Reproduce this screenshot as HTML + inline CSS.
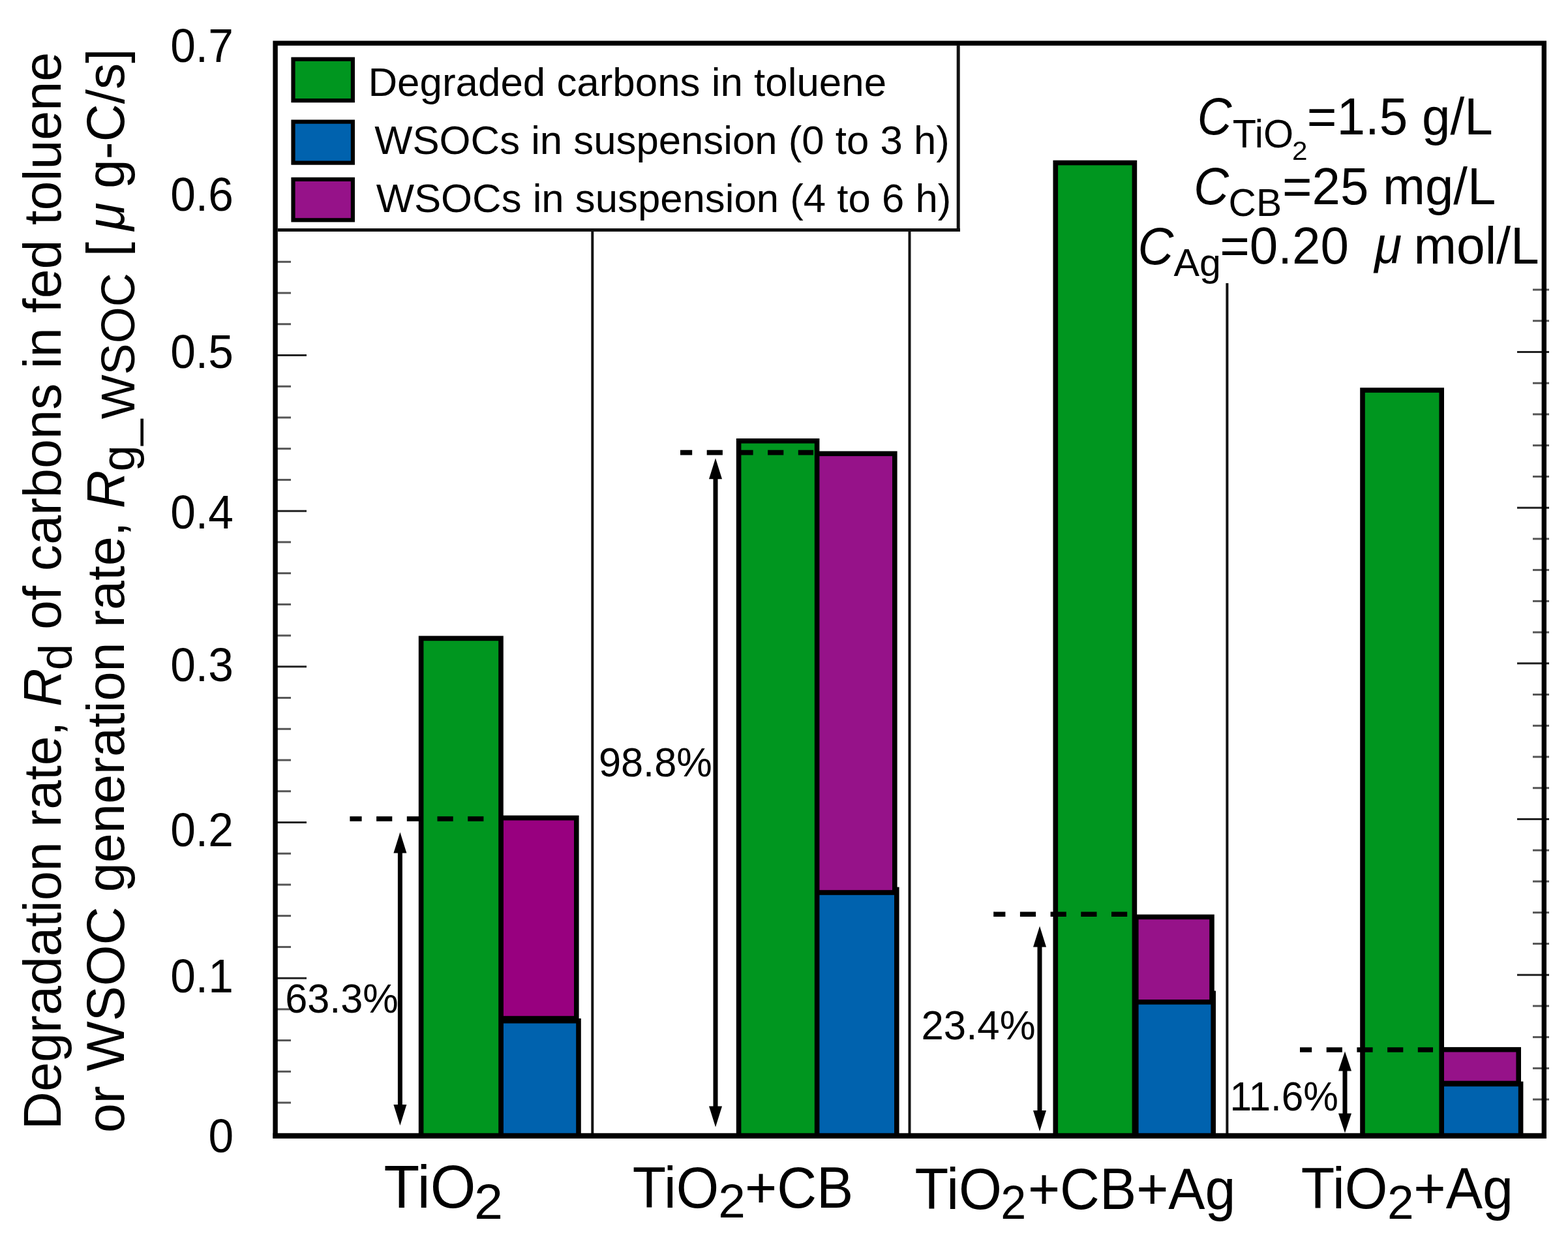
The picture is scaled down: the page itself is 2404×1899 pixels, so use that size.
<!DOCTYPE html>
<html><head><meta charset="utf-8"><title>Degradation rate chart</title>
<style>
html,body{margin:0;padding:0;background:#fff;overflow:hidden;}
svg{display:block;}
text{fill:#000;}
</style></head>
<body>
<svg width="2404" height="1899" viewBox="0 0 2404 1899">
<rect width="2404" height="1899" fill="#fff"/>
<line x1="908.3" y1="355" x2="908.3" y2="1741" stroke="#111" stroke-width="4"/>
<line x1="1394.5" y1="355" x2="1394.5" y2="1741" stroke="#111" stroke-width="4"/>
<line x1="1881.4" y1="434" x2="1881.4" y2="1741" stroke="#111" stroke-width="4"/>
<line x1="424" y1="1690.07" x2="446" y2="1690.07" stroke="#555" stroke-width="3"/>
<line x1="424" y1="1642.34" x2="446" y2="1642.34" stroke="#555" stroke-width="3"/>
<line x1="424" y1="1594.60" x2="446" y2="1594.60" stroke="#555" stroke-width="3"/>
<line x1="424" y1="1546.87" x2="446" y2="1546.87" stroke="#555" stroke-width="3"/>
<line x1="424" y1="1499.14" x2="470" y2="1499.14" stroke="#222" stroke-width="3"/>
<line x1="424" y1="1451.41" x2="446" y2="1451.41" stroke="#555" stroke-width="3"/>
<line x1="424" y1="1403.68" x2="446" y2="1403.68" stroke="#555" stroke-width="3"/>
<line x1="424" y1="1355.94" x2="446" y2="1355.94" stroke="#555" stroke-width="3"/>
<line x1="424" y1="1308.21" x2="446" y2="1308.21" stroke="#555" stroke-width="3"/>
<line x1="424" y1="1260.48" x2="470" y2="1260.48" stroke="#222" stroke-width="3"/>
<line x1="424" y1="1212.75" x2="446" y2="1212.75" stroke="#555" stroke-width="3"/>
<line x1="424" y1="1165.02" x2="446" y2="1165.02" stroke="#555" stroke-width="3"/>
<line x1="424" y1="1117.28" x2="446" y2="1117.28" stroke="#555" stroke-width="3"/>
<line x1="424" y1="1069.55" x2="446" y2="1069.55" stroke="#555" stroke-width="3"/>
<line x1="424" y1="1021.82" x2="470" y2="1021.82" stroke="#222" stroke-width="3"/>
<line x1="424" y1="974.09" x2="446" y2="974.09" stroke="#555" stroke-width="3"/>
<line x1="424" y1="926.36" x2="446" y2="926.36" stroke="#555" stroke-width="3"/>
<line x1="424" y1="878.62" x2="446" y2="878.62" stroke="#555" stroke-width="3"/>
<line x1="424" y1="830.89" x2="446" y2="830.89" stroke="#555" stroke-width="3"/>
<line x1="424" y1="783.16" x2="470" y2="783.16" stroke="#222" stroke-width="3"/>
<line x1="424" y1="735.43" x2="446" y2="735.43" stroke="#555" stroke-width="3"/>
<line x1="424" y1="687.70" x2="446" y2="687.70" stroke="#555" stroke-width="3"/>
<line x1="424" y1="639.96" x2="446" y2="639.96" stroke="#555" stroke-width="3"/>
<line x1="424" y1="592.23" x2="446" y2="592.23" stroke="#555" stroke-width="3"/>
<line x1="424" y1="544.50" x2="470" y2="544.50" stroke="#222" stroke-width="3"/>
<line x1="424" y1="496.77" x2="446" y2="496.77" stroke="#555" stroke-width="3"/>
<line x1="424" y1="449.04" x2="446" y2="449.04" stroke="#555" stroke-width="3"/>
<line x1="424" y1="401.30" x2="446" y2="401.30" stroke="#555" stroke-width="3"/>
<line x1="2350" y1="1685.07" x2="2375" y2="1685.07" stroke="#555" stroke-width="3"/>
<line x1="2350" y1="1637.34" x2="2375" y2="1637.34" stroke="#555" stroke-width="3"/>
<line x1="2350" y1="1589.60" x2="2375" y2="1589.60" stroke="#555" stroke-width="3"/>
<line x1="2350" y1="1541.87" x2="2375" y2="1541.87" stroke="#555" stroke-width="3"/>
<line x1="2326" y1="1494.14" x2="2375" y2="1494.14" stroke="#222" stroke-width="3"/>
<line x1="2350" y1="1446.41" x2="2375" y2="1446.41" stroke="#555" stroke-width="3"/>
<line x1="2350" y1="1398.68" x2="2375" y2="1398.68" stroke="#555" stroke-width="3"/>
<line x1="2350" y1="1350.94" x2="2375" y2="1350.94" stroke="#555" stroke-width="3"/>
<line x1="2350" y1="1303.21" x2="2375" y2="1303.21" stroke="#555" stroke-width="3"/>
<line x1="2326" y1="1255.48" x2="2375" y2="1255.48" stroke="#222" stroke-width="3"/>
<line x1="2350" y1="1207.75" x2="2375" y2="1207.75" stroke="#555" stroke-width="3"/>
<line x1="2350" y1="1160.02" x2="2375" y2="1160.02" stroke="#555" stroke-width="3"/>
<line x1="2350" y1="1112.28" x2="2375" y2="1112.28" stroke="#555" stroke-width="3"/>
<line x1="2350" y1="1064.55" x2="2375" y2="1064.55" stroke="#555" stroke-width="3"/>
<line x1="2326" y1="1016.82" x2="2375" y2="1016.82" stroke="#222" stroke-width="3"/>
<line x1="2350" y1="969.09" x2="2375" y2="969.09" stroke="#555" stroke-width="3"/>
<line x1="2350" y1="921.36" x2="2375" y2="921.36" stroke="#555" stroke-width="3"/>
<line x1="2350" y1="873.62" x2="2375" y2="873.62" stroke="#555" stroke-width="3"/>
<line x1="2350" y1="825.89" x2="2375" y2="825.89" stroke="#555" stroke-width="3"/>
<line x1="2326" y1="778.16" x2="2375" y2="778.16" stroke="#222" stroke-width="3"/>
<line x1="2350" y1="730.43" x2="2375" y2="730.43" stroke="#555" stroke-width="3"/>
<line x1="2350" y1="682.70" x2="2375" y2="682.70" stroke="#555" stroke-width="3"/>
<line x1="2350" y1="634.96" x2="2375" y2="634.96" stroke="#555" stroke-width="3"/>
<line x1="2350" y1="587.23" x2="2375" y2="587.23" stroke="#555" stroke-width="3"/>
<line x1="2326" y1="539.50" x2="2375" y2="539.50" stroke="#222" stroke-width="3"/>
<line x1="2350" y1="491.77" x2="2375" y2="491.77" stroke="#555" stroke-width="3"/>
<line x1="2350" y1="444.04" x2="2375" y2="444.04" stroke="#555" stroke-width="3"/>
<rect x="768.00" y="1564.70" width="119.00" height="176.50" fill="#0062ae" stroke="#000" stroke-width="7.6"/>
<rect x="768.00" y="1253.60" width="115.80" height="307.40" fill="#98007f" stroke="#000" stroke-width="7.6"/>
<rect x="645.60" y="978.40" width="122.40" height="762.80" fill="#00961f" stroke="#000" stroke-width="7.6"/>
<rect x="1251.40" y="1363.40" width="123.40" height="377.80" fill="#0062ae" stroke="#000" stroke-width="7.6"/>
<rect x="1251.40" y="695.30" width="120.40" height="672.70" fill="#961289" stroke="#000" stroke-width="7.6"/>
<rect x="1132.60" y="675.80" width="120.00" height="1065.40" fill="#00961f" stroke="#000" stroke-width="7.6"/>
<rect x="1741.80" y="1522.40" width="118.40" height="218.80" fill="#0062ae" stroke="#000" stroke-width="7.6"/>
<rect x="1741.80" y="1405.40" width="116.20" height="130.40" fill="#961289" stroke="#000" stroke-width="7.6"/>
<rect x="1618.30" y="249.50" width="121.10" height="1491.70" fill="#00961f" stroke="#000" stroke-width="7.6"/>
<rect x="2210.00" y="1661.40" width="121.60" height="79.80" fill="#0062ae" stroke="#000" stroke-width="7.6"/>
<rect x="2210.00" y="1608.70" width="118.20" height="51.70" fill="#961289" stroke="#000" stroke-width="7.6"/>
<rect x="2089.00" y="598.00" width="121.20" height="1143.20" fill="#00961f" stroke="#000" stroke-width="7.6"/>
<line x1="536.4" y1="1255.0" x2="742" y2="1255.0" stroke="#000" stroke-width="7.6" stroke-dasharray="24.2 22.5" stroke-dashoffset="6"/>
<line x1="1043.0" y1="693.6" x2="1247" y2="693.6" stroke="#000" stroke-width="7.6" stroke-dasharray="24.2 22.5" stroke-dashoffset="6"/>
<line x1="1523.2" y1="1401.2" x2="1729" y2="1401.2" stroke="#000" stroke-width="7.6" stroke-dasharray="24.2 22.5" stroke-dashoffset="6"/>
<line x1="1993.0" y1="1609.0" x2="2197" y2="1609.0" stroke="#000" stroke-width="7.6" stroke-dasharray="24.2 22.5" stroke-dashoffset="6"/>
<line x1="613.4" y1="1305.5" x2="613.4" y2="1695.0" stroke="#000" stroke-width="7"/>
<path d="M613.4 1275.5 L623.4 1307.5 L603.4 1307.5 Z" fill="#000"/>
<path d="M613.4 1725.0 L623.4 1693.0 L603.4 1693.0 Z" fill="#000"/>
<line x1="1097.0" y1="732.2" x2="1097.0" y2="1697.5" stroke="#000" stroke-width="7"/>
<path d="M1097.0 702.2 L1107.0 734.2 L1087.0 734.2 Z" fill="#000"/>
<path d="M1097.0 1727.5 L1107.0 1695.5 L1087.0 1695.5 Z" fill="#000"/>
<line x1="1594.0" y1="1449.6" x2="1594.0" y2="1704.0" stroke="#000" stroke-width="7"/>
<path d="M1594.0 1419.6 L1604.0 1451.6 L1584.0 1451.6 Z" fill="#000"/>
<path d="M1594.0 1734.0 L1604.0 1702.0 L1584.0 1702.0 Z" fill="#000"/>
<line x1="2062.0" y1="1639.6" x2="2062.0" y2="1708.4" stroke="#000" stroke-width="7"/>
<path d="M2062.0 1611.6 L2072.0 1641.6 L2052.0 1641.6 Z" fill="#000"/>
<path d="M2062.0 1736.4 L2072.0 1706.4 L2052.0 1706.4 Z" fill="#000"/>
<rect x="422.1" y="66.2" width="1945.2" height="1674.7" fill="none" stroke="#000" stroke-width="7.4"/>
<line x1="418.4" y1="1740.9" x2="2371.0" y2="1740.9" stroke="#000" stroke-width="8.2"/>
<rect x="426" y="70" width="1043" height="282.5" fill="#fff"/>
<line x1="426" y1="352.6" x2="1472" y2="352.6" stroke="#111" stroke-width="5"/>
<line x1="1469.2" y1="69" x2="1469.2" y2="355" stroke="#111" stroke-width="5"/>
<rect x="449.50" y="90.70" width="91.40" height="63.40" fill="#00961f" stroke="#000" stroke-width="6.2"/>
<rect x="449.50" y="186.60" width="91.40" height="63.00" fill="#0062ae" stroke="#000" stroke-width="6.2"/>
<rect x="449.50" y="274.90" width="91.40" height="62.40" fill="#961289" stroke="#000" stroke-width="6.2"/>
<text transform="translate(564.42,146.60) scale(1.0063,1.0000)" font-size="61.5" font-family="'Liberation Sans', Arial, Helvetica, sans-serif">Degraded carbons in toluene</text>
<text transform="translate(574.13,235.50) scale(1.0037,1.0000)" font-size="61.5" font-family="'Liberation Sans', Arial, Helvetica, sans-serif">WSOCs in suspension (0 to 3 h)</text>
<text transform="translate(576.63,324.70) scale(1.0037,1.0000)" font-size="61.5" font-family="'Liberation Sans', Arial, Helvetica, sans-serif">WSOCs in suspension (4 to 6 h)</text>
<rect x="1748" y="71" width="614" height="360" fill="#fff"/>
<text transform="translate(1835.67,206.00) scale(0.9360,1.0200)" font-size="78" font-family="'Liberation Sans', Arial, Helvetica, sans-serif" font-style="italic">C</text>
<text transform="translate(1889.67,225.50) scale(0.9817,1.0200)" font-size="60.5" font-family="'Liberation Sans', Arial, Helvetica, sans-serif">TiO</text>
<text transform="translate(1981.07,245.00) scale(1.0672,1.0200)" font-size="39.7" font-family="'Liberation Sans', Arial, Helvetica, sans-serif">2</text>
<text transform="translate(2003.78,206.30) scale(1.0033,1.0200)" font-size="78" font-family="'Liberation Sans', Arial, Helvetica, sans-serif">=1.5 g/L</text>
<text transform="translate(1830.30,313.00) scale(0.9531,1.0200)" font-size="78" font-family="'Liberation Sans', Arial, Helvetica, sans-serif" font-style="italic">C</text>
<text transform="translate(1883.62,331.00) scale(1.0124,1.0200)" font-size="58" font-family="'Liberation Sans', Arial, Helvetica, sans-serif">CB</text>
<text transform="translate(1966.09,312.50) scale(0.9994,1.0200)" font-size="78" font-family="'Liberation Sans', Arial, Helvetica, sans-serif">=25 mg/L</text>
<text transform="translate(1744.52,404.50) scale(0.9722,1.0200)" font-size="78" font-family="'Liberation Sans', Arial, Helvetica, sans-serif" font-style="italic">C</text>
<text transform="translate(1799.58,422.70) scale(1.0208,1.0200)" font-size="58" font-family="'Liberation Sans', Arial, Helvetica, sans-serif">Ag</text>
<text transform="translate(1870.18,404.30) scale(1.0020,1.0200)" font-size="78" font-family="'Liberation Sans', Arial, Helvetica, sans-serif">=0.20</text>
<text transform="translate(2107.30,403.30) scale(0.9664,1.0200)" font-size="79" font-family="'Liberation Sans', Arial, Helvetica, sans-serif" font-style="italic">μ</text>
<text transform="translate(2167.48,404.30) scale(1.0078,1.0200)" font-size="78" font-family="'Liberation Sans', Arial, Helvetica, sans-serif">mol/L</text>
<text transform="translate(261.19,94.70) scale(1.0000,1.0300)" font-size="69.5" font-family="'Liberation Sans', Arial, Helvetica, sans-serif">0.7</text>
<text transform="translate(261.19,322.50) scale(1.0000,1.0300)" font-size="69.5" font-family="'Liberation Sans', Arial, Helvetica, sans-serif">0.6</text>
<text transform="translate(261.19,564.40) scale(1.0000,1.0300)" font-size="69.5" font-family="'Liberation Sans', Arial, Helvetica, sans-serif">0.5</text>
<text transform="translate(261.19,809.90) scale(1.0000,1.0300)" font-size="69.5" font-family="'Liberation Sans', Arial, Helvetica, sans-serif">0.4</text>
<text transform="translate(261.19,1043.80) scale(1.0000,1.0300)" font-size="69.5" font-family="'Liberation Sans', Arial, Helvetica, sans-serif">0.3</text>
<text transform="translate(261.19,1296.70) scale(1.0000,1.0300)" font-size="69.5" font-family="'Liberation Sans', Arial, Helvetica, sans-serif">0.2</text>
<text transform="translate(261.19,1520.80) scale(1.0000,1.0300)" font-size="69.5" font-family="'Liberation Sans', Arial, Helvetica, sans-serif">0.1</text>
<text transform="translate(319.39,1766.40) scale(1.0000,1.0300)" font-size="69.5" font-family="'Liberation Sans', Arial, Helvetica, sans-serif">0</text>
<text transform="translate(437.19,1552.00) scale(1.0036,1.0300)" font-size="61" font-family="'Liberation Sans', Arial, Helvetica, sans-serif">63.3%</text>
<text transform="translate(917.93,1189.60) scale(1.0052,1.0300)" font-size="61" font-family="'Liberation Sans', Arial, Helvetica, sans-serif">98.8%</text>
<text transform="translate(1412.49,1592.90) scale(1.0124,1.0300)" font-size="61" font-family="'Liberation Sans', Arial, Helvetica, sans-serif">23.4%</text>
<text transform="translate(1885.40,1701.80) scale(0.9894,1.0300)" font-size="61" font-family="'Liberation Sans', Arial, Helvetica, sans-serif">11.6%</text>
<text transform="translate(588.39,1851.30) scale(1.0022,1.0300)" font-size="89.4" font-family="'Liberation Sans', Arial, Helvetica, sans-serif">TiO</text>
<text transform="translate(727.12,1868.10) scale(1.0635,1.0300)" font-size="74.5" font-family="'Liberation Sans', Arial, Helvetica, sans-serif">2</text>
<text transform="translate(969.81,1850.80) scale(0.9784,1.0300)" font-size="86" font-family="'Liberation Sans', Arial, Helvetica, sans-serif">TiO</text>
<text transform="translate(1101.14,1865.70) scale(1.0538,1.0300)" font-size="71" font-family="'Liberation Sans', Arial, Helvetica, sans-serif">2</text>
<text transform="translate(1141.99,1850.80) scale(0.9797,1.0300)" font-size="86" font-family="'Liberation Sans', Arial, Helvetica, sans-serif">+CB</text>
<text transform="translate(1402.50,1853.00) scale(0.9861,1.0300)" font-size="86" font-family="'Liberation Sans', Arial, Helvetica, sans-serif">TiO</text>
<text transform="translate(1534.37,1868.10) scale(0.9889,1.0300)" font-size="71" font-family="'Liberation Sans', Arial, Helvetica, sans-serif">2</text>
<text transform="translate(1575.89,1853.00) scale(0.9798,1.0300)" font-size="86" font-family="'Liberation Sans', Arial, Helvetica, sans-serif">+CB+Ag</text>
<text transform="translate(1994.70,1852.40) scale(0.9815,1.0300)" font-size="86" font-family="'Liberation Sans', Arial, Helvetica, sans-serif">TiO</text>
<text transform="translate(2127.03,1868.20) scale(1.0291,1.0300)" font-size="71" font-family="'Liberation Sans', Arial, Helvetica, sans-serif">2</text>
<text transform="translate(2167.37,1852.40) scale(0.9830,1.0300)" font-size="86" font-family="'Liberation Sans', Arial, Helvetica, sans-serif">+Ag</text>
<text transform="translate(93.20,0) rotate(-90) translate(-1731.54,0)" font-size="81" font-family="'Liberation Sans', Arial, Helvetica, sans-serif">Degradation rate,</text>
<text transform="translate(93.20,0) rotate(-90) translate(-1082.99,0)" font-size="81" font-family="'Liberation Sans', Arial, Helvetica, sans-serif" font-style="italic">R</text>
<text transform="translate(109.60,0) rotate(-90) translate(-1027.34,0)" font-size="72.5" font-family="'Liberation Sans', Arial, Helvetica, sans-serif">d</text>
<text transform="translate(93.20,0) rotate(-90) translate(-965.10,0) scale(0.9982,1.0000)" font-size="81" font-family="'Liberation Sans', Arial, Helvetica, sans-serif">of carbons in fed toluene</text>
<text transform="translate(190.00,0) rotate(-90) translate(-1736.20,0)" font-size="81" font-family="'Liberation Sans', Arial, Helvetica, sans-serif">or WSOC generation rate,</text>
<text transform="translate(190.00,0) rotate(-90) translate(-779.29,0)" font-size="81" font-family="'Liberation Sans', Arial, Helvetica, sans-serif" font-style="italic">R</text>
<text transform="translate(205.60,0) rotate(-90) translate(-722.42,0) scale(0.9931,1.0000)" font-size="72.5" font-family="'Liberation Sans', Arial, Helvetica, sans-serif">g_WSOC</text>
<text transform="translate(190.00,0) rotate(-90) translate(-393.37,0)" font-size="81" font-family="'Liberation Sans', Arial, Helvetica, sans-serif">[</text>
<text transform="translate(190.00,0) rotate(-90) translate(-353.36,0) scale(0.9646,1.0000)" font-size="81" font-family="'Liberation Sans', Arial, Helvetica, sans-serif" font-style="italic">μ</text>
<text transform="translate(190.00,0) rotate(-90) translate(-288.88,0) scale(0.9934,1.0000)" font-size="81" font-family="'Liberation Sans', Arial, Helvetica, sans-serif">g-C/s]</text>
</svg>
</body></html>
